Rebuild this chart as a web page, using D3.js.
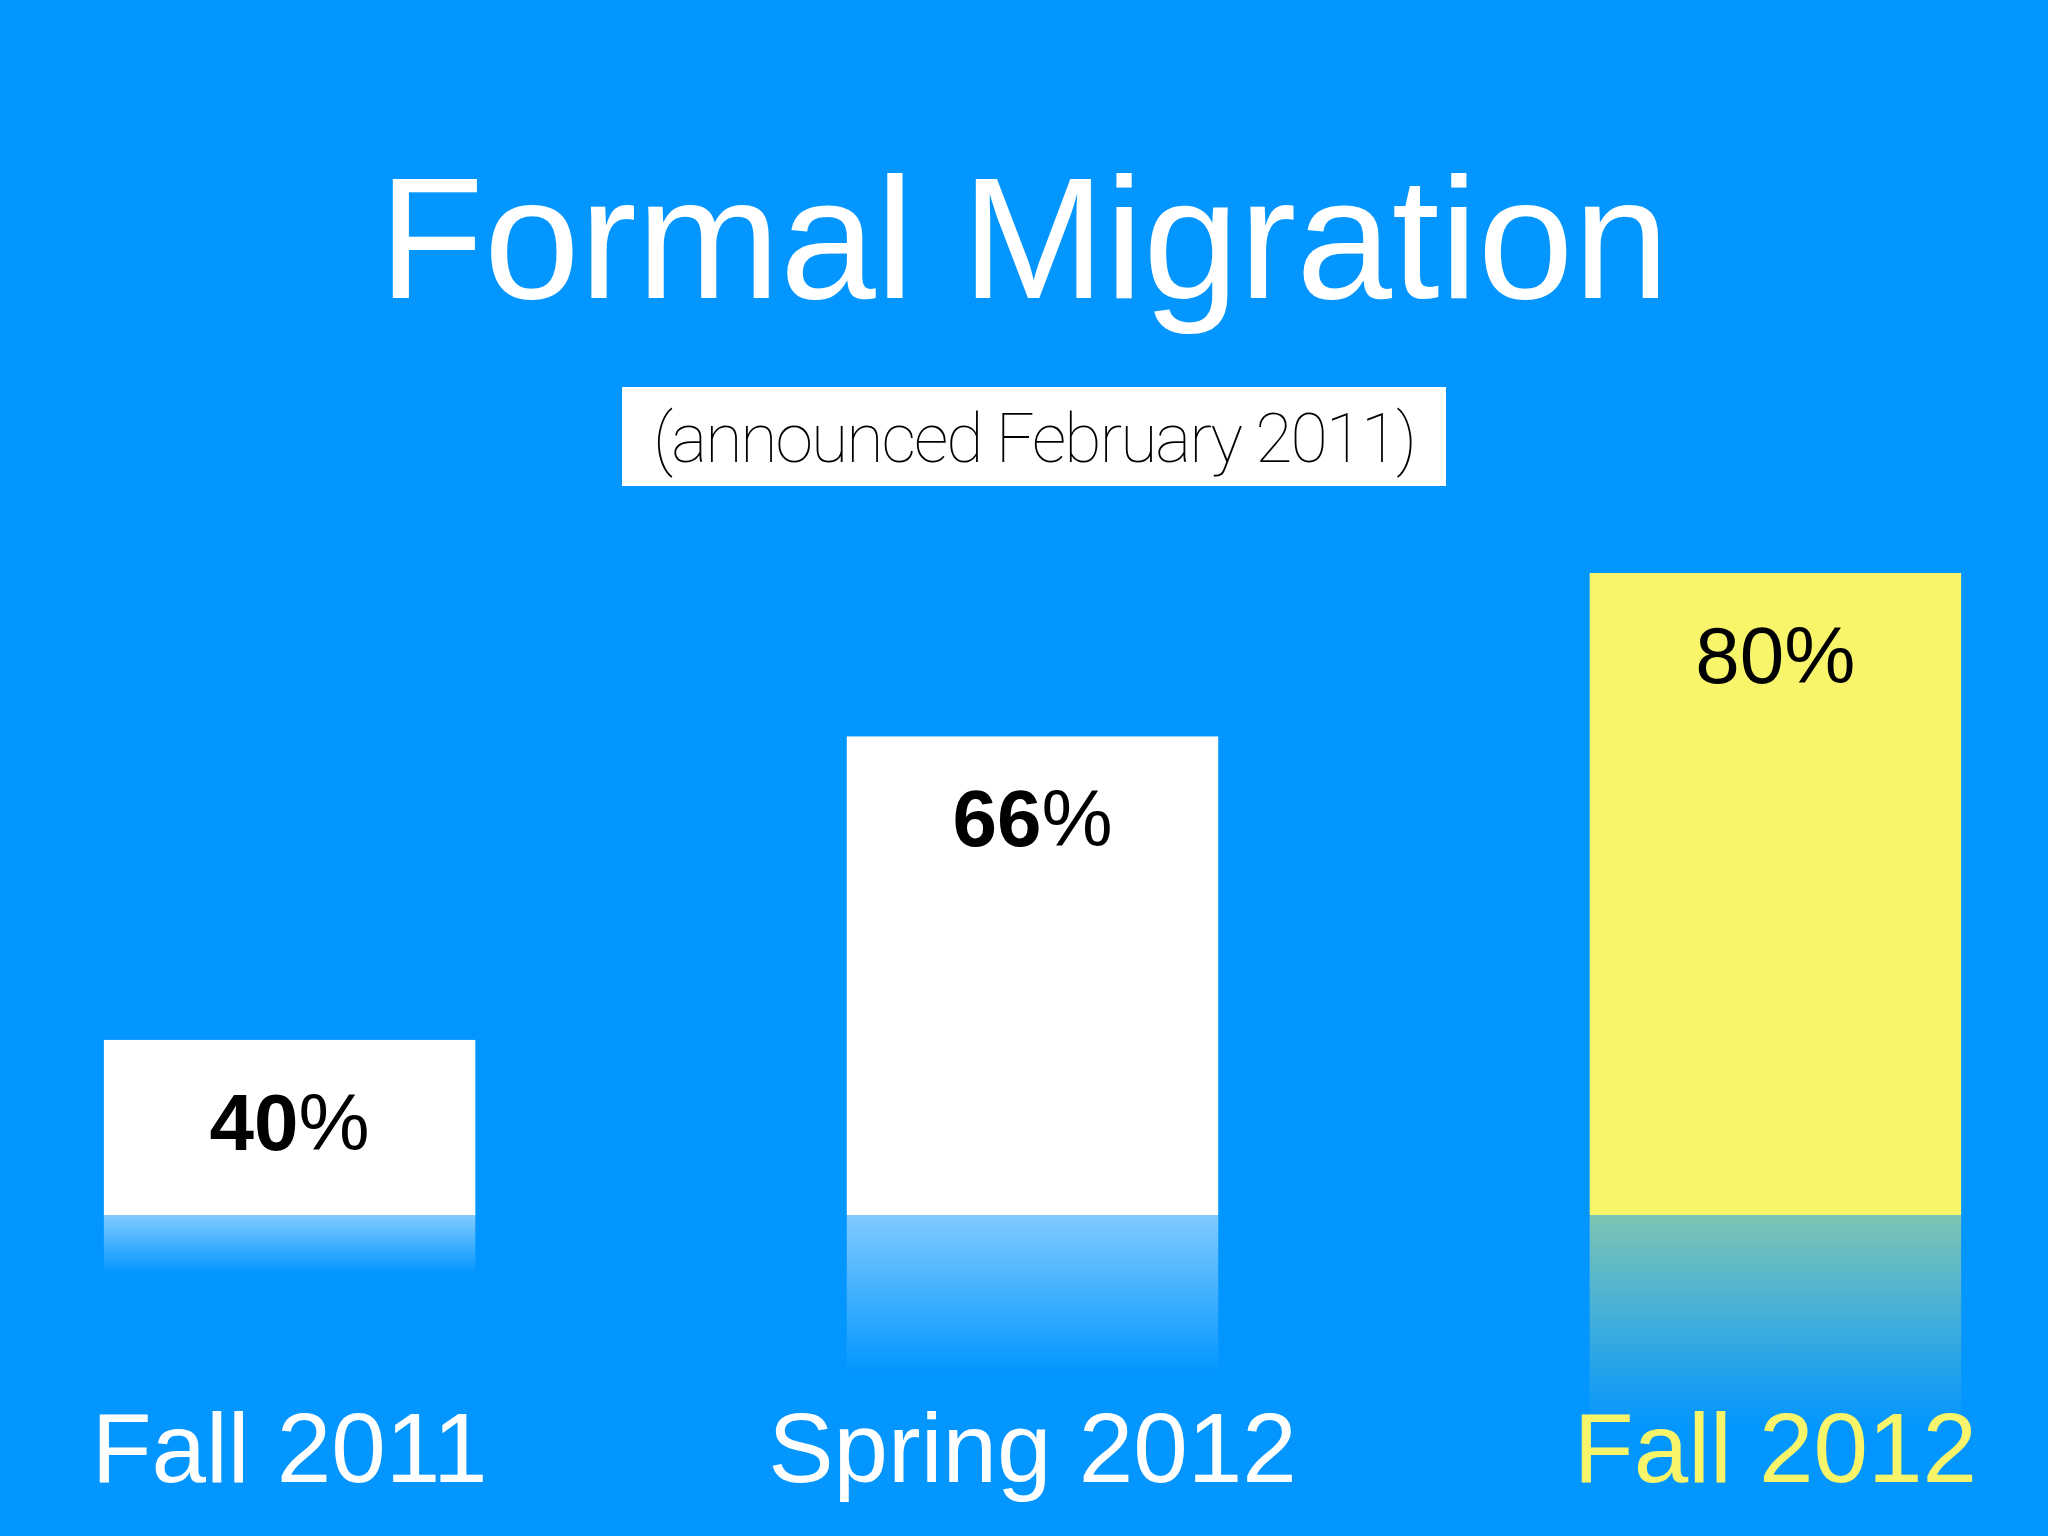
<!DOCTYPE html>
<html><head><meta charset="utf-8">
<script src="https://cdn.jsdelivr.net/npm/d3@7"></script>
<style>body{margin:0;background:#0396FF;}svg{display:block}</style>
</head><body>
<script>
const categories = ["Fall 2011", "Spring 2012", "Fall 2012"];
const values = [40, 66, 80];
const valueLabels = ["40", "66", "80"];
const highlight = [false, false, true];

const W = 2048, H = 1536, base = 1215;
const svg = d3.select("body").append("svg").attr("width", W).attr("height", H);
svg.append("rect").attr("width", W).attr("height", H).attr("fill", "#0396FF");

const x = d3.scaleBand().domain(categories).range([-15, 2080]).paddingInner(0.5).paddingOuter(0.16);
const y = d3.scaleLinear().domain([25, 80]).range([base, 573]);

const defs = svg.append("defs");
["w", "y"].forEach(k => {
  const g = defs.append("linearGradient").attr("id", "g" + k).attr("x1", 0).attr("x2", 0).attr("y1", 0).attr("y2", 1);
  const c = k === "w" ? "#ffffff" : "#f9f56a";
  g.append("stop").attr("offset", 0).attr("stop-color", c).attr("stop-opacity", 0.5);
  g.append("stop").attr("offset", 1).attr("stop-color", c).attr("stop-opacity", 0);
});

svg.append("text").attr("x", 1024).attr("y", 298).attr("text-anchor", "middle")
  .attr("font-family", "Liberation Sans, Arial, sans-serif").attr("font-size", 172)
  .attr("fill", "#fff").text("Formal Migration");
svg.append("rect").attr("x", 622).attr("y", 387).attr("width", 824).attr("height", 99).attr("fill", "#fff");
svg.append("text").attr("x", 1034).attr("y", 462).attr("text-anchor", "middle")
  .attr("font-family", "Roboto, sans-serif").attr("font-weight", 100).attr("font-size", 68)
  .attr("letter-spacing", -2).attr("fill", "#000").text("(announced February 2011)");

const g = svg.selectAll(".bar").data(categories).enter().append("g");
g.append("rect").attr("x", d => x(d)).attr("width", x.bandwidth())
  .attr("y", (d, i) => y(values[i])).attr("height", (d, i) => base - y(values[i]))
  .attr("fill", (d, i) => highlight[i] ? "#f9f56a" : "#fff");
g.append("rect").attr("x", d => x(d)).attr("width", x.bandwidth())
  .attr("y", base).attr("height", (d, i) => (base - y(values[i])) * 0.33)
  .attr("fill", (d, i) => highlight[i] ? "url(#gy)" : "url(#gw)");
const vt = g.append("text").attr("x", d => x(d) + x.bandwidth() / 2)
  .attr("y", (d, i) => y(values[i]) + 110).attr("text-anchor", "middle")
  .attr("font-family", "Liberation Sans, Arial, sans-serif").attr("font-size", 80).attr("fill", "#000");
vt.append("tspan").attr("font-weight", (d, i) => highlight[i] ? "normal" : "bold").text((d, i) => valueLabels[i]);
vt.append("tspan").text("%");
g.append("text").attr("x", d => x(d) + x.bandwidth() / 2).attr("y", 1482).attr("text-anchor", "middle")
  .attr("font-family", "Liberation Sans, Arial, sans-serif").attr("font-size", 98)
  .attr("fill", (d, i) => highlight[i] ? "#f9f56a" : "#fff").text(d => d);
</script>
</body></html>
